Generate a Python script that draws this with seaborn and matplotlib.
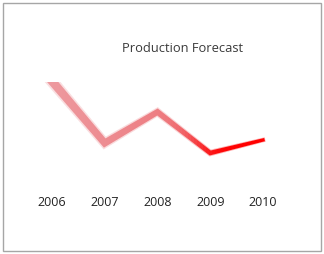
import numpy as np
import pandas as pd
import matplotlib
matplotlib.use("Agg")
import matplotlib.pyplot as plt
import seaborn as sns
from matplotlib.patches import Rectangle
from matplotlib.transforms import Bbox, TransformedBbox

years = ["2006", "2007", "2008", "2009", "2010"]
production = [89, 27, 58, 17, 30]
title = "Production Forecast"

sns.set_style("white")
plt.rcParams["font.family"] = ["Open Sans", "DejaVu Sans"]

df = pd.DataFrame({"idx": np.arange(len(years)), "value": production})

fig = plt.figure(figsize=(3.24, 2.54), dpi=100)
ax = fig.add_axes([25.6 / 324, 84 / 254, 263.75 / 324, 100 / 254])
ax.set_xlim(-0.5, 4.5)
ax.set_ylim(0, 100)

c_pale = np.array([0.93, 0.60, 0.62])
c_mid = np.array([0.93, 0.48, 0.50])
c_red = np.array([1.0, 0.0, 0.0])
nb = 80
x0, x1 = -0.2, 4.25
edges = np.linspace(x0, x1, nb + 1)
top = 88
for i in range(nb):
    xm = 0.5 * (edges[i] + edges[i + 1])
    a = min(max(xm / 2.3, 0.0), 1.0)
    base = c_pale * (1 - a) + c_mid * a
    tr = 1.0 / (1.0 + np.exp(-(xm - 2.75) / 0.18))
    col = np.clip(base * (1 - tr) + c_red * tr, 0, 1)
    t = (xm - x0) / (x1 - x0)
    w_px = max(9.0 - 6.0 * t ** 0.9, 3.3)
    clip = TransformedBbox(Bbox([[edges[i], -50], [edges[i + 1], top]]), ax.transData)
    for lw_scale, alpha in [(1.4, 0.3), (1.0, 1.0)]:
        n_before = len(ax.lines)
        sns.lineplot(data=df, x="idx", y="value", ax=ax, color=tuple(col),
                     linewidth=w_px * 0.72 * lw_scale, alpha=alpha,
                     estimator=None, sort=False, legend=False)
        for ln in ax.lines[n_before:]:
            ln.set_clip_box(clip)
            ln.set_solid_joinstyle("miter")
            ln.set_solid_capstyle("projecting")

ax.set_xticks(range(len(years)))
ax.set_xticklabels(years, fontsize=9, color="#222222")
ax.tick_params(axis="x", length=0, pad=18.5)
ax.set_yticks([])
ax.set_xlabel("")
ax.set_ylabel("")
for s in ax.spines.values():
    s.set_visible(False)

fig.text(183 / 324, 1 - 48 / 254, title, ha="center", va="center",
         fontsize=9.3, color="#3a3a3a")

fig.patches.append(Rectangle((3 / 324, 3 / 254), 318 / 324, 248 / 254,
                             transform=fig.transFigure, fill=False,
                             edgecolor="#a6a6a6", linewidth=1.0))

fig.savefig("out.png", dpi=100)
